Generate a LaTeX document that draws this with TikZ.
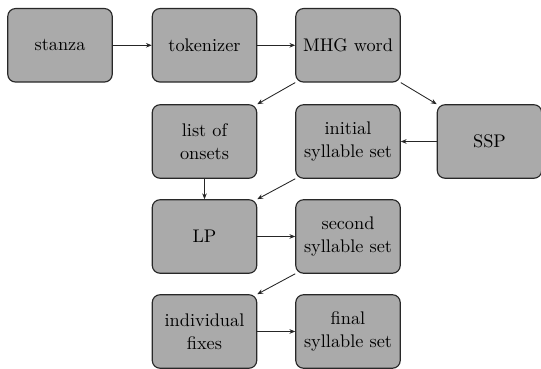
\documentclass[tikz,border=0pt]{standalone}
\usetikzlibrary{arrows.meta}
\definecolor{boxfill}{RGB}{170,170,170}
\definecolor{boxline}{RGB}{40,40,40}
\begin{document}
\begin{tikzpicture}[x=0.52pt,y=0.52pt,
  stepbox/.style={draw=boxline,fill=boxfill,rounded corners=4pt,line width=0.6pt,
    minimum width=54.3pt,minimum height=38.2pt,align=center,inner sep=1pt,
    font=\rmfamily\fontsize{9.5}{11.8}\selectfont},
  flow/.style={-{Stealth[length=3pt,width=2.4pt]},line width=0.45pt,draw=black!85}]
\useasboundingbox (0,0) rectangle (541,369);
\node[stepbox] (stanza) at (60,323.7) {stanza};
\node[stepbox] (tok) at (204.5,323.7) {tokenizer};
\node[stepbox] (mhg) at (348,323.7) {MHG word};
\node[stepbox] (onsets) at (204.5,227.5) {list of\\onsets};
\node[stepbox] (init) at (348,227.5) {initial\\syllable set};
\node[stepbox] (ssp) at (489.5,227.5) {SSP};
\node[stepbox] (lp) at (204.5,132.5) {LP};
\node[stepbox] (second) at (348,132.5) {second\\syllable set};
\node[stepbox] (fixes) at (204.5,37.5) {individual\\fixes};
\node[stepbox] (final) at (348,37.5) {final\\syllable set};
\draw[flow] (stanza) -- (tok);
\draw[flow] (tok) -- (mhg);
\draw[flow] (mhg.south west) -- (onsets.north east);
\draw[flow] (mhg.south east) -- (ssp.north west);
\draw[flow] (ssp) -- (init);
\draw[flow] (onsets) -- (lp);
\draw[flow] (init.south west) -- (lp.north east);
\draw[flow] (lp) -- (second);
\draw[flow] (second.south west) -- (fixes.north east);
\draw[flow] (fixes) -- (final);
\end{tikzpicture}
\end{document}
